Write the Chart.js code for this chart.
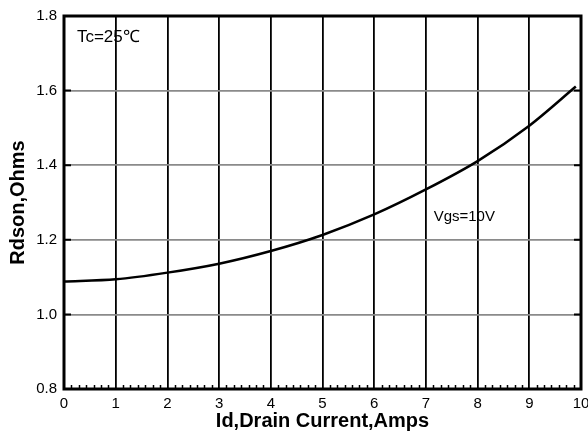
<!DOCTYPE html>
<html>
<head>
<meta charset="utf-8">
<script src="https://cdn.jsdelivr.net/npm/chart.js@4"></script>
<style>
  html, body { margin: 0; padding: 0; background: #fff; }
  canvas { display: block; }
</style>
</head>
<body>
<canvas id="rdson" width="588" height="437"></canvas>
<script>
// drain current (A) and on resistance (ohms)
const drainCurrent = [0, 1, 2, 3, 4, 5, 6, 7, 8, 9, 9.9];
const rdsOn = [1.088, 1.094, 1.112, 1.136, 1.170, 1.213, 1.268, 1.335, 1.411, 1.506, 1.611];

const xTicks = [0, 1, 2, 3, 4, 5, 6, 7, 8, 9, 10];
const yTicks = [0.8, 1.0, 1.2, 1.4, 1.6, 1.8];

const curveLabel = 'Vgs=10V';
const tempLabel = 'Tc=25\u2103';

const FONT = 'Arial, "Liberation Sans", sans-serif';

// frame, inner ticks and the two text labels
const framePlugin = {
  id: 'frame',
  afterDraw(chart) {
    const { ctx, chartArea: a, scales: { x, y } } = chart;
    ctx.save();
    ctx.strokeStyle = '#000';

    // minor ticks along the bottom
    ctx.lineWidth = 1.5;
    for (let v = 0; v < 10; v++) {
      for (let k = 1; k < 7; k++) {
        const px = Math.round(x.getPixelForValue(v + k / 7)) + 0.5;
        ctx.beginPath();
        ctx.moveTo(px, a.bottom);
        ctx.lineTo(px, a.bottom - 4);
        ctx.stroke();
      }
    }
    // inner ticks on left and right for the y grid
    ctx.lineWidth = 2;
    yTicks.forEach(v => {
      const py = y.getPixelForValue(v);
      ctx.beginPath();
      ctx.moveTo(a.left, py); ctx.lineTo(a.left + 7, py);
      ctx.moveTo(a.right, py); ctx.lineTo(a.right - 7, py);
      ctx.stroke();
    });

    ctx.lineWidth = 3;
    ctx.strokeRect(a.left, a.top, a.right - a.left, a.bottom - a.top);

    ctx.fillStyle = '#000';
    ctx.textBaseline = 'middle';
    ctx.textAlign = 'left';
    ctx.font = '17px ' + FONT;
    ctx.fillText(tempLabel, x.getPixelForValue(0.25), y.getPixelForValue(1.743));
    ctx.font = '15px ' + FONT;
    ctx.fillText(curveLabel, x.getPixelForValue(7.15), y.getPixelForValue(1.262));
    ctx.restore();
  }
};

new Chart(document.getElementById('rdson'), {
  type: 'scatter',
  data: {
    datasets: [{
      data: drainCurrent.map((v, i) => ({ x: v, y: rdsOn[i] })),
      showLine: true,
      borderColor: '#000',
      borderWidth: 2.5,
      pointRadius: 0,
      tension: 0.3
    }]
  },
  options: {
    responsive: false,
    animation: false,
    layout: { padding: { top: 15, right: 7 } },
    plugins: { legend: { display: false }, tooltip: { enabled: false } },
    scales: {
      x: {
        type: 'linear',
        min: 0,
        max: 10,
        afterFit(scale) { scale.height = 48; scale.paddingRight = 0; },
        afterBuildTicks(scale) { scale.ticks = xTicks.map(v => ({ value: v })); },
        grid: { color: '#000', lineWidth: 1.8, drawTicks: false },
        border: { display: false },
        ticks: { color: '#000', padding: 6, font: { size: 15, family: FONT }, maxRotation: 0 },
        title: {
          display: true,
          text: 'Id,Drain Current,Amps',
          color: '#000',
          font: { size: 20, weight: 'bold', family: FONT },
          padding: { top: 0, bottom: 4 }
        }
      },
      y: {
        min: 0.8,
        max: 1.8,
        afterFit(scale) { scale.width = 64; },
        afterBuildTicks(scale) { scale.ticks = yTicks.map(v => ({ value: v })); },
        grid: { color: '#8a8a8a', lineWidth: 1.8, drawTicks: false },
        border: { display: false },
        ticks: {
          color: '#000',
          padding: 7,
          font: { size: 15, family: FONT },
          callback: v => Number(v).toFixed(1)
        },
        title: {
          display: true,
          text: 'Rdson,Ohms',
          color: '#000',
          font: { size: 20, weight: 'bold', family: FONT },
          padding: { top: 6, bottom: 0 }
        }
      }
    }
  },
  plugins: [framePlugin]
});
</script>
</body>
</html>
